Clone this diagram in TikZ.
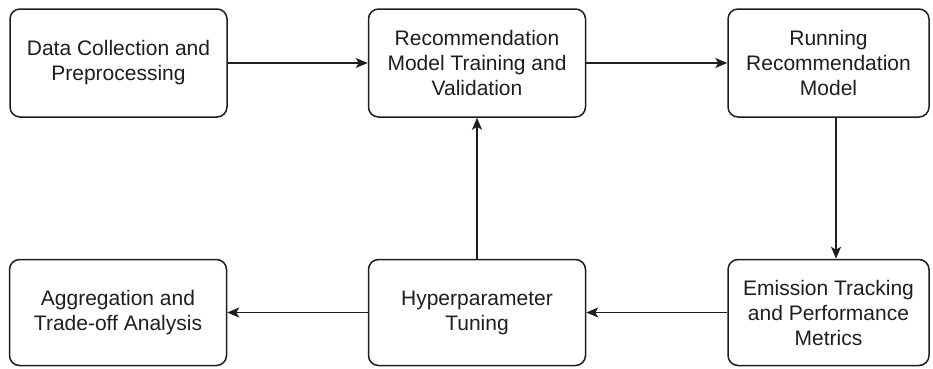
\documentclass[tikz,border=0pt]{standalone}
\usepackage{fontspec}
\setmainfont{Liberation Sans}
\usetikzlibrary{arrows.meta}
\definecolor{ink}{HTML}{1E1E1E}
\begin{document}
\begin{tikzpicture}[x=1pt,y=-1pt,
  box/.style={draw=ink,line width=1.5pt,rounded corners=10pt,fill=white,
    minimum width=217pt,minimum height=108pt,inner sep=0pt,
    align=center,text=ink,font=\fontsize{21pt}{25pt}\selectfont},
  conn/.style={draw=ink,line width=1.5pt,-{Stealth[length=12pt,width=10pt,inset=3pt]}}]
\useasboundingbox (0,0) rectangle (933,368);
\node[box] (b1) at (118.5,63) {Data Collection and\\Preprocessing};
\node[box] (b2) at (477,63) {Recommendation\\Model Training and\\Validation};
\node[box,minimum width=201pt] (b3) at (828.5,63) {Running\\Recommendation\\Model};
\node[box,minimum height=106pt] (b4) at (118,312.5) {Aggregation and\\Trade-off Analysis};
\node[box,minimum height=106pt] (b5) at (477,312.5) {Hyperparameter\\Tuning};
\node[box,minimum width=201pt,minimum height=106pt] (b6) at (828.5,312.5) {Emission Tracking\\and Performance\\Metrics};
\draw[conn] (b1) -- (b2);
\draw[conn] (b2) -- (b3);
\draw[conn] ([xshift=7.5pt]b3.south) -- ([xshift=7.5pt]b6.north);
\draw[conn] (b6) -- (b5);
\draw[conn] (b5) -- (b4);
\draw[conn] (b5) -- (b2);
\end{tikzpicture}
\end{document}
